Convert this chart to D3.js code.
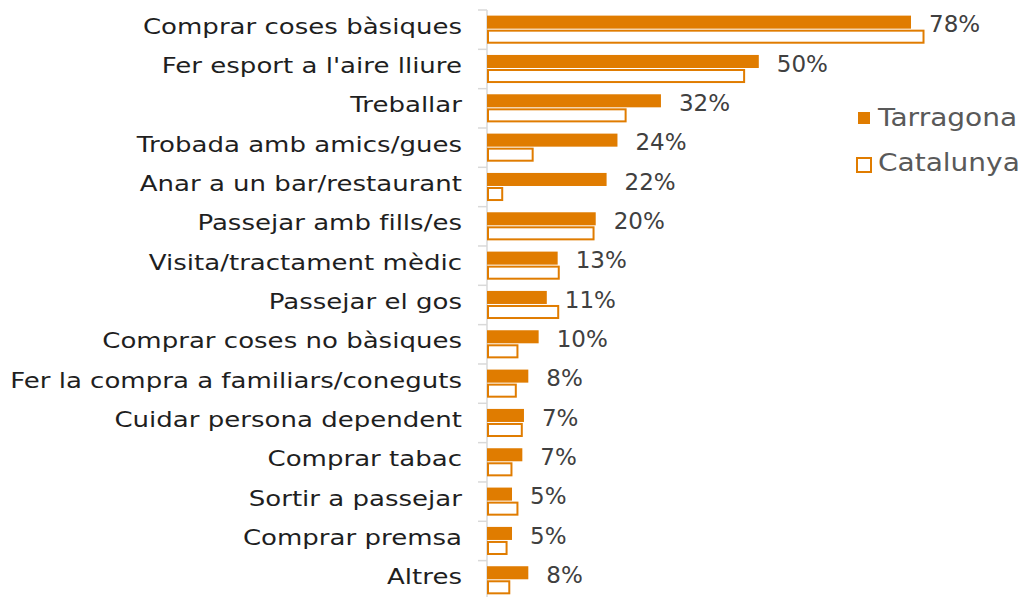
<!DOCTYPE html>
<html lang="ca">
<head>
<meta charset="utf-8">
<script src="https://d3js.org/d3.v7.min.js"></script>
<style>
  body { margin: 0; background: #fff; }
  .cat { font-family: "DejaVu Sans", sans-serif; font-size: 21px; fill: #1f1f1f; }
  .val { font-family: "DejaVu Sans", sans-serif; font-size: 23px; fill: #404040; }
  .leg { font-family: "DejaVu Sans", sans-serif; font-size: 25px; fill: #595959; }
</style>
</head>
<body>
<svg width="1024" height="597"></svg>
<script>
  var categories = ["Comprar coses bàsiques", "Fer esport a l'aire lliure", "Treballar",
    "Trobada amb amics/gues", "Anar a un bar/restaurant", "Passejar amb fills/es",
    "Visita/tractament mèdic", "Passejar el gos", "Comprar coses no bàsiques",
    "Fer la compra a familiars/coneguts", "Cuidar persona dependent", "Comprar tabac",
    "Sortir a passejar", "Comprar premsa", "Altres"];
  var series = ["Tarragona", "Catalunya"];
  var tarragona = [78, 50, 32, 24, 22, 20, 13, 11, 9.5, 7.6, 6.8, 6.5, 4.6, 4.6, 7.6];
  var catalunya = [80.3, 47.3, 25.5, 8.4, 2.8, 19.6, 13.2, 13.1, 5.6, 5.3, 6.4, 4.5, 5.6, 3.6, 4.1];

  var orange = "#e07c00";
  var svg = d3.select("svg");

  var x = d3.scaleLinear().domain([0, 100]).range([487, 487 + 543.6]);
  var y = d3.scaleBand().domain(categories).range([10, 10 + 15 * 39.33]);
  var ys = d3.scaleBand().domain(series).range([0, y.bandwidth()]).paddingOuter(0.4);

  // vertical axis line + tick marks
  var ag = svg.append("g").attr("transform", "translate(487,0)");
  ag.append("line").attr("y1", 10).attr("y2", 597).attr("stroke", "#d9d9d9").attr("stroke-width", 1.5);
  ag.selectAll("line.tk")
    .data(categories)
    .enter().append("line")
    .attr("class", "tk")
    .attr("x1", -9).attr("x2", 0)
    .attr("y1", function (d) { return y(d); })
    .attr("y2", function (d) { return y(d); })
    .attr("stroke", "#d9d9d9").attr("stroke-width", 1.5);

  // category labels (stretched a bit, the original font is a wide one)
  svg.append("g").selectAll("text")
    .data(categories)
    .enter().append("text")
    .attr("class", "cat")
    .attr("transform", function (d) {
      return "translate(462," + (y(d) + y.bandwidth() / 2 + 4) + ") scale(1.24,1)";
    })
    .attr("text-anchor", "end")
    .text(function (d) { return d; });

  // Tarragona bars
  svg.append("g").selectAll("rect")
    .data(tarragona)
    .enter().append("rect")
    .attr("x", x(0))
    .attr("y", function (d, i) { return y(categories[i]) + ys("Tarragona"); })
    .attr("width", function (d) { return x(d) - x(0); })
    .attr("height", ys.bandwidth() - 1)
    .attr("fill", orange);

  // Catalunya bars (outlined)
  svg.append("g").selectAll("rect")
    .data(catalunya)
    .enter().append("rect")
    .attr("x", x(0) + 1)
    .attr("y", function (d, i) { return y(categories[i]) + ys("Catalunya") + 1; })
    .attr("width", function (d) { return x(d) - x(0) - 1; })
    .attr("height", ys.bandwidth() - 2)
    .attr("fill", "#fff")
    .attr("stroke", orange)
    .attr("stroke-width", 2);

  // value labels (Tarragona only)
  svg.append("g").selectAll("text")
    .data(tarragona)
    .enter().append("text")
    .attr("class", "val")
    .attr("x", function (d) { return x(d) + 18; })
    .attr("y", function (d, i) { return y(categories[i]) + y.bandwidth() / 2 + 2.7; })
    .text(function (d) { return Math.round(d) + "%"; });

  // legend
  var leg = svg.append("g");
  leg.append("rect").attr("x", 858).attr("y", 112).attr("width", 12).attr("height", 12).attr("fill", orange);
  leg.append("rect").attr("x", 857).attr("y", 158).attr("width", 14).attr("height", 14)
    .attr("fill", "#fff").attr("stroke", orange).attr("stroke-width", 2);
  leg.append("text").attr("class", "leg").attr("transform", "translate(878,126) scale(1.12,1)").text(series[0]);
  leg.append("text").attr("class", "leg").attr("transform", "translate(878,171) scale(1.12,1)").text(series[1]);
</script>
</body>
</html>
